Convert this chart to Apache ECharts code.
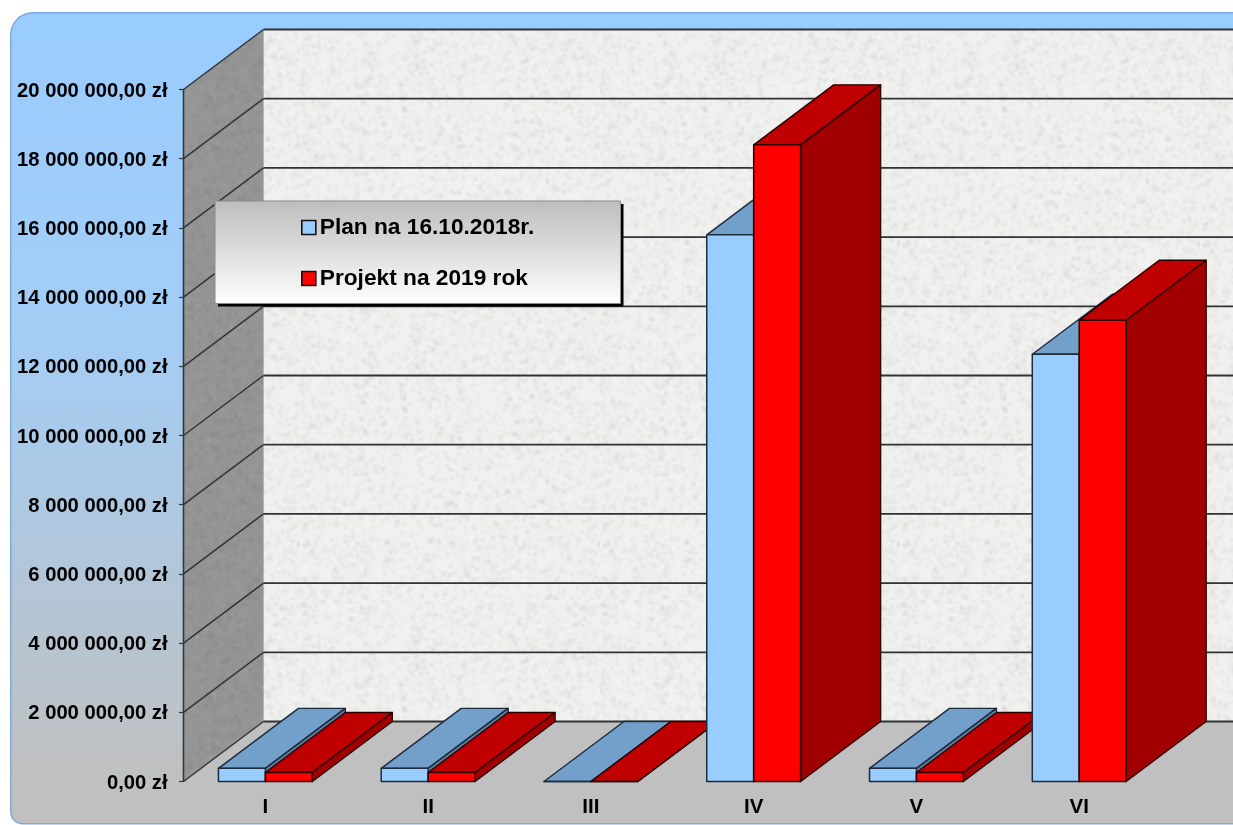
<!DOCTYPE html>
<html><head><meta charset="utf-8">
<style>html,body{margin:0;padding:0;background:#fff}#c{width:1233px;height:825px}</style>
<script src="https://cdn.jsdelivr.net/npm/echarts@6/dist/echarts.min.js"></script>
</head><body><div id="c"></div>
<script>
const categories = ['I','II','III','IV','V','VI'];
const planValues = [380000,380000,0,15800000,380000,12350000];
const projectValues = [260000,260000,0,18400000,260000,13330000];
const yTicks = [0,2000000,4000000,6000000,8000000,10000000,12000000,14000000,16000000,18000000,20000000];
const seriesNames = ['Plan na 16.10.2018r.','Projekt na 2019 rok'];

const DX = 80, DY = -60, BAR = 47/163;
const FONT = '"Liberation Sans", Arial, sans-serif';

function texture(base, dark, light, count){
  const cv = document.createElement('canvas'); cv.width = cv.height = 300;
  const g = cv.getContext('2d');
  g.fillStyle = base; g.fillRect(0,0,300,300);
  let s = 12345;
  const r = () => (s = (s*1103515245 + 12345) & 0x7fffffff) / 0x7fffffff;
  g.filter = 'blur(0.9px)';
  for(let i=0;i<count;i++){
    g.fillStyle = r()<0.5 ? dark : light;
    g.globalAlpha = 0.15 + r()*0.35;
    g.beginPath(); g.arc(r()*300, r()*300, 0.7+r()*1.2, 0, 7); g.fill();
  }
  return cv;
}
const backTex = {image: texture('#f0f0ee','#cdcdcb','#fbfbfb',8000), repeat:'repeat'};
const sideTex = {image: texture('#969696','#858585','#a5a5a5',8000), repeat:'repeat'};

function poly(pts, fill, stroke, lw, z2){
  return {type:'polygon', shape:{points:pts}, z2,
    style:{fill, stroke, lineWidth:lw, lineJoin:'round'}};
}
function line(a, b, stroke, lw, z2){
  return {type:'line', shape:{x1:a[0],y1:a[1],x2:b[0],y2:b[1]}, z2,
    style:{stroke, lineWidth:lw, fill:null}};
}

function renderWall(params, api){
  const val = api.value(0);
  const sys = params.coordSys;
  const y = api.coord([0,val])[1];
  const xF = sys.x - 0.5, xB = xF + DX, far = api.getWidth() + 5;
  const kids = [];
  if(params.dataIndex === 0){
    const y0 = sys.y + sys.height, yT = sys.y;
    kids.push(poly([[xB,yT+DY],[far,yT+DY],[far,y0+DY],[xB,y0+DY]], backTex, null, 0, 1));
    kids.push(poly([[xF,yT],[xB,yT+DY],[xB,y0+DY],[xF,y0]], sideTex, null, 0, 1));
    kids.push(poly([[xF,y0],[xB,y0+DY],[far,y0+DY],[far,y0+1],[xF,y0+1]], '#c0c0c0', null, 0, 1));
    kids.push(line([xF,yT],[xF,y0],'#30383f',1.6,3));
  }
  kids.push(line([xF,y],[xB,y+DY],'#30343a',1.5,3));
  kids.push(line([xB,y+DY],[far,y+DY],'#303236',1.8,3));
  return {type:'group', children:kids};
}

function barRenderer(front, top, side, edge, offset, order){
  return function(params, api){
    const i = api.value(0), v = api.value(1);
    const c = api.coord([i,v]), b = api.coord([i,0]);
    const w = api.size([1,0])[0]*BAR;
    const l = c[0] + offset*w, r = l + w, t = c[1], y0 = b[1];
    const z = 20 + i*10 + order;
    return {type:'group', children:[
      poly([[l,t],[l+DX,t+DY],[r+DX,t+DY],[r,t]], top, edge, 1.4, z),
      poly([[r,t],[r+DX,t+DY],[r+DX,y0+DY],[r,y0]], side, edge, 1.4, z),
      poly([[l,t],[r,t],[r,y0],[l,y0]], front, edge, 1.5, z+1)
    ]};
  };
}

const chart = echarts.init(document.getElementById('c'), null, {renderer:'canvas'});
chart.setOption({
  animation:false,
  backgroundColor:'#ffffff',
  graphic:[
    {type:'rect', z:-5, silent:true, left:10, top:12,
      shape:{width:1240, height:811, r:[22,0,0,12]},
      style:{stroke:'#7fa9d8', lineWidth:1.5,
        fill:new echarts.graphic.LinearGradient(0,0,0,1,[
          {offset:0,color:'#99ccff'},{offset:0.4,color:'#a3cdf5'},{offset:0.95,color:'#c0c0c0'},{offset:1,color:'#c0c0c0'}])}},
    {type:'rect', z:5, silent:true, left:218, top:204,
      shape:{width:405.5, height:102.5}, style:{fill:'#000'}},
    {type:'rect', z:6, silent:true, left:214.5, top:200.5,
      shape:{width:405.5, height:102.5},
      style:{stroke:'#8a8a8a', lineWidth:1,
        fill:new echarts.graphic.LinearGradient(0,0,0,1,[{offset:0,color:'#bdbdbd'},{offset:1,color:'#ffffff'}])}}
  ],
  grid:{left:184, top:89.5, width:976.6, height:692, containLabel:false},
  xAxis:{type:'category', data:categories, boundaryGap:true, z:10,
    axisLine:{show:false}, axisTick:{show:false},
    axisLabel:{color:'#000', fontFamily:FONT, fontWeight:'bold', fontSize:20.5, margin:15}},
  yAxis:{type:'value', min:0, max:20000000, interval:2000000, z:10,
    splitLine:{show:false},
    axisLine:{show:false},
    axisTick:{show:true, length:5, lineStyle:{color:'#30383f', width:1.2}},
    axisLabel:{color:'#000', fontFamily:FONT, fontWeight:'bold', fontSize:20.2, margin:16.5,
      verticalAlign:'bottom', padding:[0,0,-11.5,0],
      formatter:v => String(v).replace(/\B(?=(\d{3})+$)/g,' ') + ',00 zł'}},
  legend:{show:true, z:8, orient:'vertical', left:214, top:200, itemGap:28,
    padding:[16,86,14,87], itemWidth:14, itemHeight:14,
    data:[{name:seriesNames[0], icon:'rect', itemStyle:{color:'#99ccff',borderColor:'#111',borderWidth:1.6}},
          {name:seriesNames[1], icon:'rect', itemStyle:{color:'#ff0000',borderColor:'#111',borderWidth:1.6}}],
    textStyle:{color:'#000', fontFamily:FONT, fontWeight:'bold', fontSize:22.7, padding:[0,0,0,-1]},
    selectedMode:false},
  series:[
    {type:'custom', name:'walls', silent:true, clip:false, z:1, renderItem:renderWall, encode:{y:0},
      data:yTicks.map(v=>[v])},
    {type:'custom', name:seriesNames[0], clip:false, z:2, silent:true,
      renderItem:barRenderer('#99ccff','#739fcb','#5d7f9f','#1c2c3c',-1,0),
      itemStyle:{color:'#99ccff'}, encode:{x:0,y:1},
      data:categories.map((c,i)=>[i,planValues[i]])},
    {type:'custom', name:seriesNames[1], clip:false, z:2, silent:true,
      renderItem:barRenderer('#ff0000','#c00000','#a00000','#2a0000',0,5),
      itemStyle:{color:'#ff0000'}, encode:{x:0,y:1},
      data:categories.map((c,i)=>[i,projectValues[i]])}
  ]
});
</script></body></html>
